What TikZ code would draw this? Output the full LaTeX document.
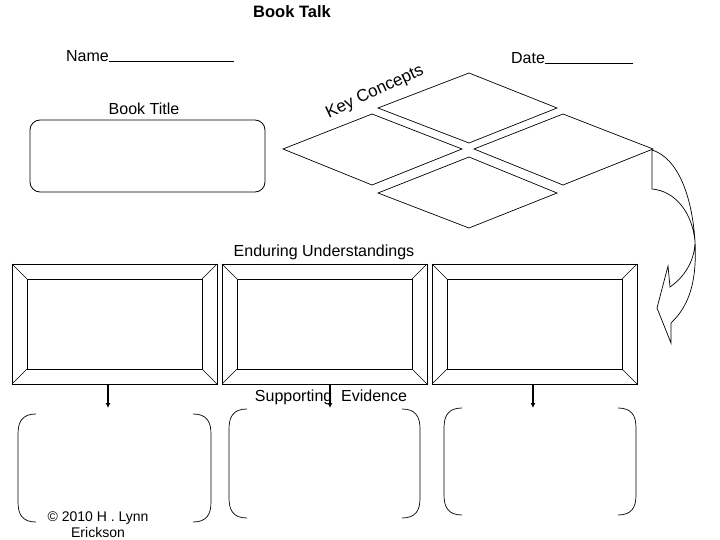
\documentclass[tikz,border=0pt]{standalone}
\usepackage{fontspec}
\setmainfont{Liberation Sans}
\usetikzlibrary{arrows.meta}
\begin{document}
\begin{tikzpicture}[x=1pt,y=-1pt,line width=0.8pt,
  txt/.style={font=\fontsize{16}{18}\selectfont,inner sep=0pt},
  frame/.style={draw,line width=1pt},
  brk/.style={line width=0.7pt},
  dn/.style={-{Latex[length=5pt,width=5pt]},line width=1.2pt}]
\useasboundingbox (0,0) rectangle (720,540);
\node[font=\bfseries\fontsize{16.5}{18}\selectfont,inner sep=0pt] (title) at (292,12) {Book Talk};
\node[txt] (name) at (150,56) {Name\rule[-1pt]{125pt}{0.6pt}};
\node[txt] (date) at (572,58) {Date\rule[-1pt]{88pt}{0.6pt}};
\node[txt] (bt) at (144,109) {Book Title};
\draw[line width=0.8pt,rounded corners=10pt] (30,120) rectangle (265,192);
\node[font=\fontsize{17}{19}\selectfont,inner sep=0pt,rotate=25] (kc) at (375,92) {Key Concepts};
% diamonds
\draw[line width=0.7pt] (469,73) -- (557,108) -- (469,143) -- (378,108) -- cycle;
\draw[line width=0.7pt] (372,114) -- (462,149) -- (372,185) -- (283,149) -- cycle;
\draw[line width=0.7pt] (563,114) -- (653,149) -- (563,185) -- (474,149) -- cycle;
\draw[line width=0.7pt] (469,157) -- (557,193) -- (469,228) -- (378,193) -- cycle;
% curved arrow
\draw[line width=0.7pt] (652,150) -- (652,189) .. controls (675,191) and (692,212) .. (695,241)
  .. controls (695,262) and (683,278) .. (670,287) -- (668,266) -- (657,308) -- (671,343) -- (671,323)
  .. controls (690,305) and (697,280) .. (695,241) .. controls (692,196) and (678,158) .. (652,150);
\node[txt] (eu) at (324,252) {Enduring Understandings};
% frames
\foreach \x/\n in {12/f1,222/f2,432/f3}{
  \draw[frame] (\x,264) rectangle ++(205,120);
  \draw[frame] (\x+15,279) rectangle ++(175,90);
  \draw[line width=0.6pt] (\x,264) -- ++(15,15) (\x+205,264) -- ++(-15,15)
     (\x,384) -- ++(15,-15) (\x+205,384) -- ++(-15,-15);
  \coordinate (\n) at (\x+102.5,384);
}
\draw[dn] (108,384) -- (108,408);
\draw[dn] (330,384) -- (330,408);
\draw[dn] (533,384) -- (533,408);
\node[txt] (se) at (331,397) {Supporting\ \ Evidence};
% brackets
\foreach \l/\r/\t/\b in {18/211/414/522, 229/420/409/518, 444/636/408/515}{
  \draw[brk] (\l+18,\t) .. controls (\l+4,\t) and (\l,\t+8) .. (\l,\t+20) -- (\l,\b-20) .. controls (\l,\b-8) and (\l+4,\b) .. (\l+18,\b);
  \draw[brk] (\r-18,\t) .. controls (\r-4,\t) and (\r,\t+8) .. (\r,\t+20) -- (\r,\b-20) .. controls (\r,\b-8) and (\r-4,\b) .. (\r-18,\b);
}
\node[font=\fontsize{14}{16}\selectfont,inner sep=0pt,align=center] (cp) at (98,525) {\textcopyright\ 2010 H . Lynn\\Erickson};
\end{tikzpicture}
\end{document}
